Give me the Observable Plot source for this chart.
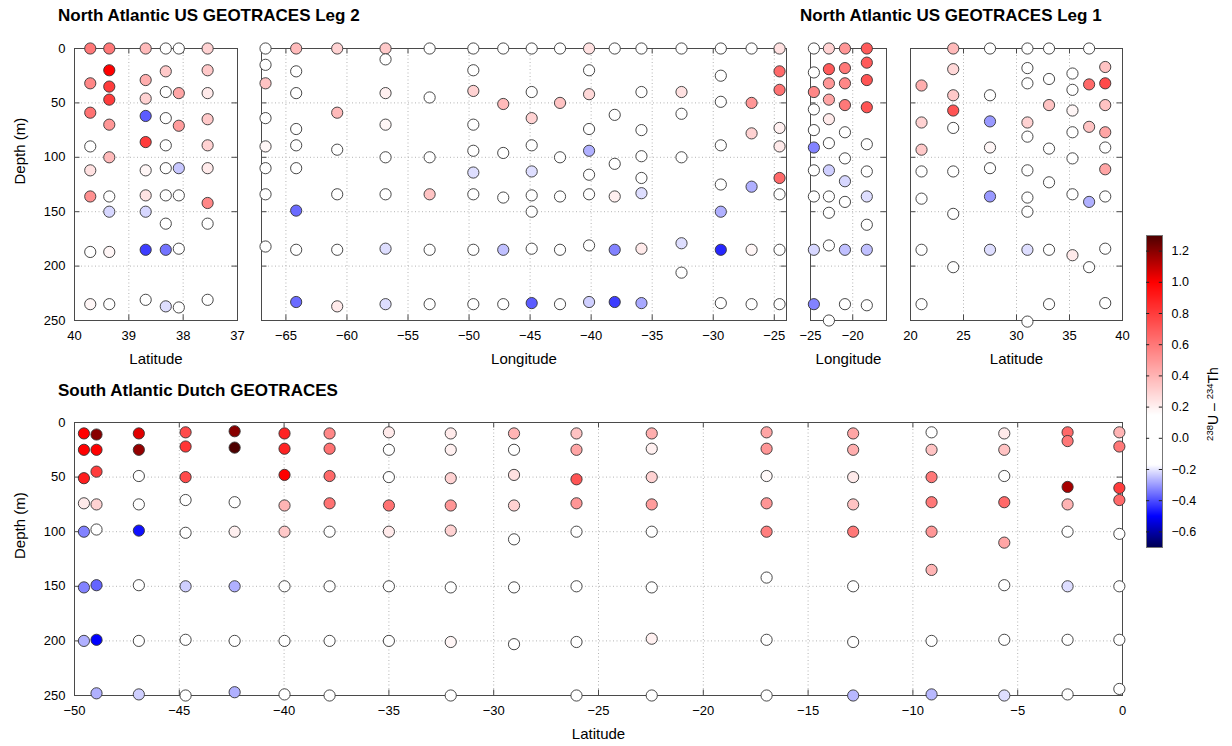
<!DOCTYPE html>
<html><head><meta charset="utf-8">
<script src="https://cdn.jsdelivr.net/npm/d3@7"></script>
<script src="https://cdn.jsdelivr.net/npm/@observablehq/plot@0.6"></script>
<style>
body{margin:0;background:#fff;font-family:"Liberation Sans",Arial,sans-serif;}
#wrap{position:relative;width:1232px;height:746px;overflow:hidden;background:#fff;}
.abs{position:absolute;}
.title{font-weight:bold;font-size:17px;line-height:17px;color:#000;white-space:nowrap;}
.cblab{font-size:14px;line-height:14px;white-space:nowrap;color:#000;transform:translate(-50%,-50%) rotate(-90deg);}
.cblab sup{font-size:9.5px;vertical-align:0;position:relative;top:-5px;}
</style></head>
<body><div id="wrap"></div>
<script>
// ---- data: [x (lat or lon), depth (m), 238U-234Th] ----
const leg2Lat = [
  [39.71,0,0.6],[39.71,32,0.55],[39.71,59,0.62],[39.71,90,0],[39.71,112,0.25],[39.71,136,0.52],[39.71,187,0],[39.71,235,0.18],
  [39.36,0,0.6],[39.36,20,1.0],[39.36,35,0.8],[39.36,47,0.8],[39.36,70,0.5],[39.36,100,0.38],[39.36,136,0],[39.36,150,-0.22],[39.36,187,0.18],[39.36,235,0],
  [38.69,0,0.38],[38.69,29,0.42],[38.69,46,0.3],[38.69,62,-0.38],[38.69,86,0.8],[38.69,112,0.18],[38.69,135,0.24],[38.69,150,-0.22],[38.69,185,-0.42],[38.69,231,0],
  [38.32,0,0],[38.32,21,0.33],[38.32,40,0],[38.32,64,0],[38.32,89,0],[38.32,110,0],[38.32,135,0],[38.32,161,0],[38.32,185,-0.35],[38.32,237,-0.21],
  [38.08,0,0],[38.08,41,0.45],[38.08,71,0.48],[38.08,110,-0.24],[38.08,135,0],[38.08,184,0],[38.08,238,0],
  [37.55,0,0.3],[37.55,20,0.33],[37.55,41,0.22],[37.55,65,0.33],[37.55,89,0.3],[37.55,110,0.22],[37.55,142,0.55],[37.55,161,0],[37.55,231,0]
];
const leg2Lon = [
  [-66.67,0,0],[-66.67,15,0],[-66.67,32,0.35],[-66.67,64,0],[-66.67,90,0.18],[-66.67,110,0],[-66.67,134,0],[-66.67,182,0],
  [-64.16,0,0.38],[-64.16,21,0],[-64.16,41,0],[-64.16,74,0],[-64.16,89,0],[-64.16,110,0],[-64.16,149,-0.36],[-64.16,185,0],[-64.16,233,-0.36],
  [-60.8,0,0.3],[-60.8,59,0.38],[-60.8,93,0],[-60.8,134,0],[-60.8,185,0],[-60.8,237,0.22],
  [-56.84,0,0.33],[-56.84,10,0],[-56.84,41,0.2],[-56.84,70,0.18],[-56.84,100,0],[-56.84,134,0],[-56.84,184,-0.21],[-56.84,235,-0.21],
  [-53.23,0,0],[-53.23,45,0],[-53.23,100,0],[-53.23,134,0.35],[-53.23,185,0],[-53.23,235,0],
  [-49.65,0,0],[-49.65,20,0],[-49.65,39,0.3],[-49.65,70,0],[-49.65,94,0],[-49.65,114,-0.21],[-49.65,134,0],[-49.65,185,0],[-49.65,235,0],
  [-47.2,0,0],[-47.2,51,0.38],[-47.2,96,0],[-47.2,137,0],[-47.2,185,-0.25],[-47.2,235,0],
  [-44.87,0,0],[-44.87,40,0],[-44.87,64,0.3],[-44.87,89,0],[-44.87,113,-0.21],[-44.87,135,0],[-44.87,150,0],[-44.87,184,0],[-44.87,234,-0.38],
  [-42.55,0,0],[-42.55,50,0.35],[-42.55,100,0],[-42.55,136,0],[-42.55,185,0],[-42.55,235,0],
  [-40.17,0,0.25],[-40.17,20,0],[-40.17,42,0.28],[-40.17,74,0],[-40.17,94,-0.27],[-40.17,116,0],[-40.17,134,0],[-40.17,181,0],[-40.17,233,-0.23],
  [-38.07,0,0],[-38.07,61,0],[-38.07,106,0],[-38.07,136,0.2],[-38.07,185,-0.33],[-38.07,233,-0.42],
  [-35.88,0,0],[-35.88,40,0],[-35.88,75,0],[-35.88,99,0],[-35.88,119,0],[-35.88,133,-0.21],[-35.88,184,0.22],[-35.88,234,-0.28],
  [-32.6,0,0],[-32.6,40,0.25],[-32.6,60,0],[-32.6,100,0],[-32.6,179,-0.21],[-32.6,206,0],
  [-29.38,0,0],[-29.38,25,0],[-29.38,49,0],[-29.38,89,0],[-29.38,125,0],[-29.38,150,-0.27],[-29.38,185,-0.45],[-29.38,234,0],
  [-26.86,0,0],[-26.86,50,0.5],[-26.86,78,0.3],[-26.86,127,-0.27],[-26.86,185,0.18],[-26.86,235,0],
  [-24.57,0,0.25],[-24.57,21,0.65],[-24.57,38,0.62],[-24.57,73,0.2],[-24.57,90,0.22],[-24.57,119,0.65],[-24.57,134,0],[-24.57,185,0],[-24.57,235,0]
];
const leg1Lon = [
  [-24.6,0,0],[-24.6,22,0],[-24.6,40,0.55],[-24.6,56,0],[-24.6,75,0],[-24.6,91,-0.33],[-24.6,112,0],[-24.6,136,0],[-24.6,185,-0.22],[-24.6,235,-0.33],
  [-22.82,0,0.3],[-22.82,19,0.7],[-22.82,32,0.5],[-22.82,47,0.45],[-22.82,65,0.22],[-22.82,87,0],[-22.82,112,-0.23],[-22.82,136,0],[-22.82,151,0],[-22.82,181,0],[-22.82,250,0],
  [-20.92,0,0.5],[-20.92,18,0.6],[-20.92,32,0.55],[-20.92,52,0.6],[-20.92,77,0],[-20.92,101,0],[-20.92,122,-0.22],[-20.92,141,0],[-20.92,185,-0.25],[-20.92,235,0],
  [-18.33,0,0.7],[-18.33,13,0.7],[-18.33,29,0.72],[-18.33,54,0.72],[-18.33,88,0],[-18.33,113,0],[-18.33,136,-0.21],[-18.33,162,0],[-18.33,185,-0.25],[-18.33,236,0]
];
const leg1Lat = [
  [21.04,34,0.42],[21.04,68,0.3],[21.04,93,0.33],[21.04,113,0],[21.04,138,0],[21.04,185,0],[21.04,235,0],
  [24.03,0,0.38],[24.03,19,0.28],[24.03,43,0.33],[24.03,57,0.72],[24.03,73,0],[24.03,113,0],[24.03,152,0],[24.03,201,0],
  [27.5,0,0],[27.5,43,0],[27.5,67,-0.3],[27.5,91,0.18],[27.5,110,0],[27.5,136,-0.3],[27.5,185,-0.21],
  [31.03,0,0],[31.03,18,0],[31.03,32,0],[31.03,68,0.3],[31.03,81,0],[31.03,112,0],[31.03,137,0],[31.03,150,0],[31.03,185,-0.21],[31.03,251,0],
  [33.07,0,0],[33.07,28,0],[33.07,52,0.35],[33.07,92,0],[33.07,123,0],[33.07,185,0],[33.07,235,0],
  [35.28,23,0],[35.28,38,0],[35.28,57,0.18],[35.28,77,0],[35.28,101,0],[35.28,134,0],[35.28,190,0.22],
  [36.85,0,0],[36.85,33,0.65],[36.85,72,0.35],[36.85,141,-0.27],[36.85,201,0],
  [38.37,17,0.35],[38.37,32,0.75],[38.37,52,0.35],[38.37,77,0.45],[38.37,91,0],[38.37,111,0.45],[38.37,136,0],[38.37,184,0],[38.37,234,0]
];
const southLat = [
  [-49.55,10,1.0],[-49.55,25,1.0],[-49.55,51,0.9],[-49.55,74,0.22],[-49.55,100,-0.33],[-49.55,151,-0.33],[-49.55,200,-0.27],
  [-48.95,11,1.2],[-48.95,25,1.0],[-48.95,45,0.8],[-48.95,75,0.3],[-48.95,98,0],[-48.95,149,-0.37],[-48.95,199,-0.5],[-48.95,248,-0.27],
  [-46.93,10,1.05],[-46.93,25,1.18],[-46.93,49,0],[-46.93,75,0],[-46.93,99,-0.48],[-46.93,149,0],[-46.93,200,0],[-46.93,249,-0.23],
  [-44.7,9,0.75],[-44.7,22,0.82],[-44.7,50,0.75],[-44.7,71,0],[-44.7,101,0],[-44.7,150,-0.23],[-44.7,199,0],[-44.7,250,0],
  [-42.36,8,1.2],[-42.36,23,1.3],[-42.36,73,0],[-42.36,100,0.2],[-42.36,150,-0.27],[-42.36,200,0],[-42.36,247,-0.27],
  [-39.98,10,0.88],[-39.98,24,0.88],[-39.98,48,1.0],[-39.98,76,0.4],[-39.98,100,0.33],[-39.98,150,0],[-39.98,200,0],[-39.98,249,0],
  [-37.83,10,0.55],[-37.83,24,0.62],[-37.83,49,0.65],[-37.83,74,0.62],[-37.83,100,0],[-37.83,150,0],[-37.83,200,0],[-37.83,250,0],
  [-35.0,9,0.22],[-35.0,25,0],[-35.0,50,0],[-35.0,76,0.62],[-35.0,100,0.22],[-35.0,150,0],[-35.0,200,0],
  [-32.05,10,0.22],[-32.05,25,0.2],[-32.05,51,0.3],[-32.05,76,0.5],[-32.05,99,0.3],[-32.05,151,0],[-32.05,201,0.18],[-32.05,250,0],
  [-29.03,10,0.4],[-29.03,25,0],[-29.03,48,0.25],[-29.03,76,0.3],[-29.03,107,0],[-29.03,151,0],[-29.03,203,0],
  [-26.05,10,0.35],[-26.05,25,0.45],[-26.05,52,0.72],[-26.05,74,0.5],[-26.05,100,0],[-26.05,150,0],[-26.05,201,0],[-26.05,250,0],
  [-22.46,10,0.42],[-22.46,24,0.2],[-22.46,50,0.3],[-22.46,75,0.48],[-22.46,100,0],[-22.46,151,0],[-22.46,198,0.2],[-22.46,250,0],
  [-16.98,9,0.45],[-16.98,24,0.5],[-16.98,49,0.17],[-16.98,74,0.5],[-16.98,100,0.58],[-16.98,142,0],[-16.98,199,0],[-16.98,250,0],
  [-12.85,10,0.45],[-12.85,25,0.42],[-12.85,50,0.22],[-12.85,75,0.35],[-12.85,100,0.6],[-12.85,150,0],[-12.85,201,0],[-12.85,250,-0.26],
  [-9.11,9,0],[-9.11,25,0.35],[-9.11,50,0.6],[-9.11,73,0.6],[-9.11,100,0.5],[-9.11,135,0.4],[-9.11,200,0],[-9.11,249,-0.26],
  [-5.64,10,0.22],[-5.64,25,0.35],[-5.64,49,0],[-5.64,73,0.65],[-5.64,110,0.45],[-5.64,149,0],[-5.64,199,0],[-5.64,250,-0.21],
  [-2.62,9,0.65],[-2.62,17,0.6],[-2.62,59,1.15],[-2.62,75,0.4],[-2.62,100,0],[-2.62,150,-0.21],[-2.62,199,0],[-2.62,249,0],
  [-0.15,9,0.4],[-0.15,22,0.6],[-0.15,60,0.8],[-0.15,71,0.65],[-0.15,102,0],[-0.15,150,0],[-0.15,199,0],[-0.15,244,0]
];
// ---- ticks ----
const depthTicks = [0, 50, 100, 150, 200, 250];
const leg2LatTicks = [40, 39, 38, 37];
const leg2LonTicks = [-65, -60, -55, -50, -45, -40, -35, -30, -25];
const leg1LonTicks = [-25, -20];
const leg1LatTicks = [20, 25, 30, 35, 40];
const southTicks = [-50, -45, -40, -35, -30, -25, -20, -15, -10, -5, 0];
const cbTicks = [-0.6, -0.4, -0.2, 0, 0.2, 0.4, 0.6, 0.8, 1, 1.2];
// ---- colour map ----
const colorStops = [-0.7, -0.5, -0.2, -0.17, 0.15, 1.0, 1.3];
const colorRange = ["#000050", "#0000ff", "#e6e6ff", "#ffffff", "#ffffff", "#ff0000", "#4d0000"];
const colorOpts = {type: "linear", domain: colorStops, range: colorRange, interpolate: "rgb"};

const FONT = "font-family:'Liberation Sans',Arial,sans-serif;";
const wrap = document.getElementById("wrap");
function place(node, left, top) {
  const d = document.createElement("div");
  d.className = "abs"; d.style.left = left + "px"; d.style.top = top + "px";
  d.appendChild(node); wrap.appendChild(d); return d;
}
function html(cls, text, left, top) {
  const d = document.createElement("div");
  d.className = "abs " + cls; d.style.left = left + "px"; d.style.top = top + "px";
  d.innerHTML = text; wrap.appendChild(d); return d;
}

function panel(cfg) {
  const {data, xDomain, xTicks, box, svg, xLabel, yLabels} = cfg;
  const [fx0, fy0, fx1, fy1] = box;
  const [sx0, sy0, sx1, sy1] = svg;
  const kx = (fx1 - fx0) / (xDomain[1] - xDomain[0]);
  const ky = (fy1 - fy0) / 250;
  const tl = 5.5, dxU = tl / kx, dyU = tl / ky;
  const rows = data.map(([x, depth, v]) => ({x, depth, v}));
  const fc = "#4a4a4a";
  const marks = [
    Plot.gridX(xTicks, {stroke: "#b4b4b4", strokeOpacity: 1, strokeDasharray: "1,2.5"}),
    Plot.gridY(depthTicks, {stroke: "#b4b4b4", strokeOpacity: 1, strokeDasharray: "1,2.5"}),
    Plot.frame({stroke: fc, strokeWidth: 1}),
    Plot.ruleX(xTicks, {x: d => d, y1: 0, y2: dyU, stroke: fc}),
    Plot.ruleX(xTicks, {x: d => d, y1: 250 - dyU, y2: 250, stroke: fc}),
    Plot.ruleY(depthTicks, {y: d => d, x1: xDomain[0], x2: xDomain[0] + dxU, stroke: fc}),
    Plot.ruleY(depthTicks, {y: d => d, x1: xDomain[1] - dxU, x2: xDomain[1], stroke: fc}),
    Plot.axisX(xTicks, {anchor: "bottom", tickSize: 0, tickPadding: 10, fontSize: 13, label: null}),
    Plot.text([xLabel], {frameAnchor: "bottom", dy: 43, fontSize: 15}),
    Plot.dot(rows, {x: "x", y: "depth", r: 5.6, fill: "v", stroke: "#333", strokeWidth: 0.9})
  ];
  if (yLabels) {
    marks.push(Plot.axisY(depthTicks, {anchor: "left", tickSize: 0, tickPadding: 9, fontSize: 13, label: null}));
    marks.push(Plot.text(["Depth (m)"], {frameAnchor: "left", rotate: -90, dx: -54, fontSize: 15}));
  }
  const p = Plot.plot({
    width: sx1 - sx0, height: sy1 - sy0,
    marginLeft: fx0 - sx0, marginRight: sx1 - fx1, marginTop: fy0 - sy0, marginBottom: sy1 - fy1,
    x: {domain: xDomain},
    y: yLabels ? {domain: [0, 250], reverse: true} : {domain: [0, 250], reverse: true, axis: null},
    color: colorOpts,
    style: FONT + "overflow:visible;background:transparent;max-width:none;color:#000;",
    marks
  });
  place(p, sx0, sy0);
}

panel({data: leg2Lat, xDomain: [40, 37], xTicks: leg2LatTicks, box: [74, 48, 237, 320], svg: [0, 30, 247, 375], xLabel: "Latitude", yLabels: true});
panel({data: leg2Lon, xDomain: [-67, -24], xTicks: leg2LonTicks, box: [261, 48, 786, 320], svg: [249, 30, 797, 375], xLabel: "Longitude", yLabels: false});
panel({data: leg1Lon, xDomain: [-25, -16], xTicks: leg1LonTicks, box: [810, 48, 886, 320], svg: [799, 30, 897, 375], xLabel: "Longitude", yLabels: false});
panel({data: leg1Lat, xDomain: [20, 40], xTicks: leg1LatTicks, box: [910, 48, 1122, 320], svg: [899, 30, 1133, 375], xLabel: "Latitude", yLabels: false});
panel({data: southLat, xDomain: [-50, 0], xTicks: southTicks, box: [74, 422, 1122, 695], svg: [0, 398, 1133, 746], xLabel: "Latitude", yLabels: true});

// colour bar
const cb = Plot.plot({
  width: 76, height: 332, marginLeft: 10, marginRight: 50, marginTop: 10, marginBottom: 10,
  x: {domain: [0, 1], axis: null},
  y: {domain: [-0.7, 1.3]},
  color: colorOpts,
  style: FONT + "overflow:visible;background:transparent;max-width:none;color:#000;",
  marks: [
    Plot.raster({x1: 0, x2: 1, y1: -0.7, y2: 1.3, width: 1, height: 312, fill: (x, y) => y}),
    Plot.frame({stroke: "#777"}),
    Plot.ruleY(cbTicks, {y: d => d, x1: 0, x2: 0.2, stroke: "#222"}),
    Plot.ruleY(cbTicks, {y: d => d, x1: 0.8, x2: 1, stroke: "#222"}),
    Plot.axisY(cbTicks, {anchor: "right", tickSize: 0, tickPadding: 9, fontSize: 12.5, label: null})
  ]
});
place(cb, 1136, 225);

html("title", "North Atlantic US GEOTRACES Leg 2", 58, 7);
html("title", "North Atlantic US GEOTRACES Leg 1", 800, 7);
html("title", "South Atlantic Dutch GEOTRACES", 58, 382);
html("cblab", "<sup>238</sup>U – <sup>234</sup>Th", 1214, 404);
</script></body></html>
